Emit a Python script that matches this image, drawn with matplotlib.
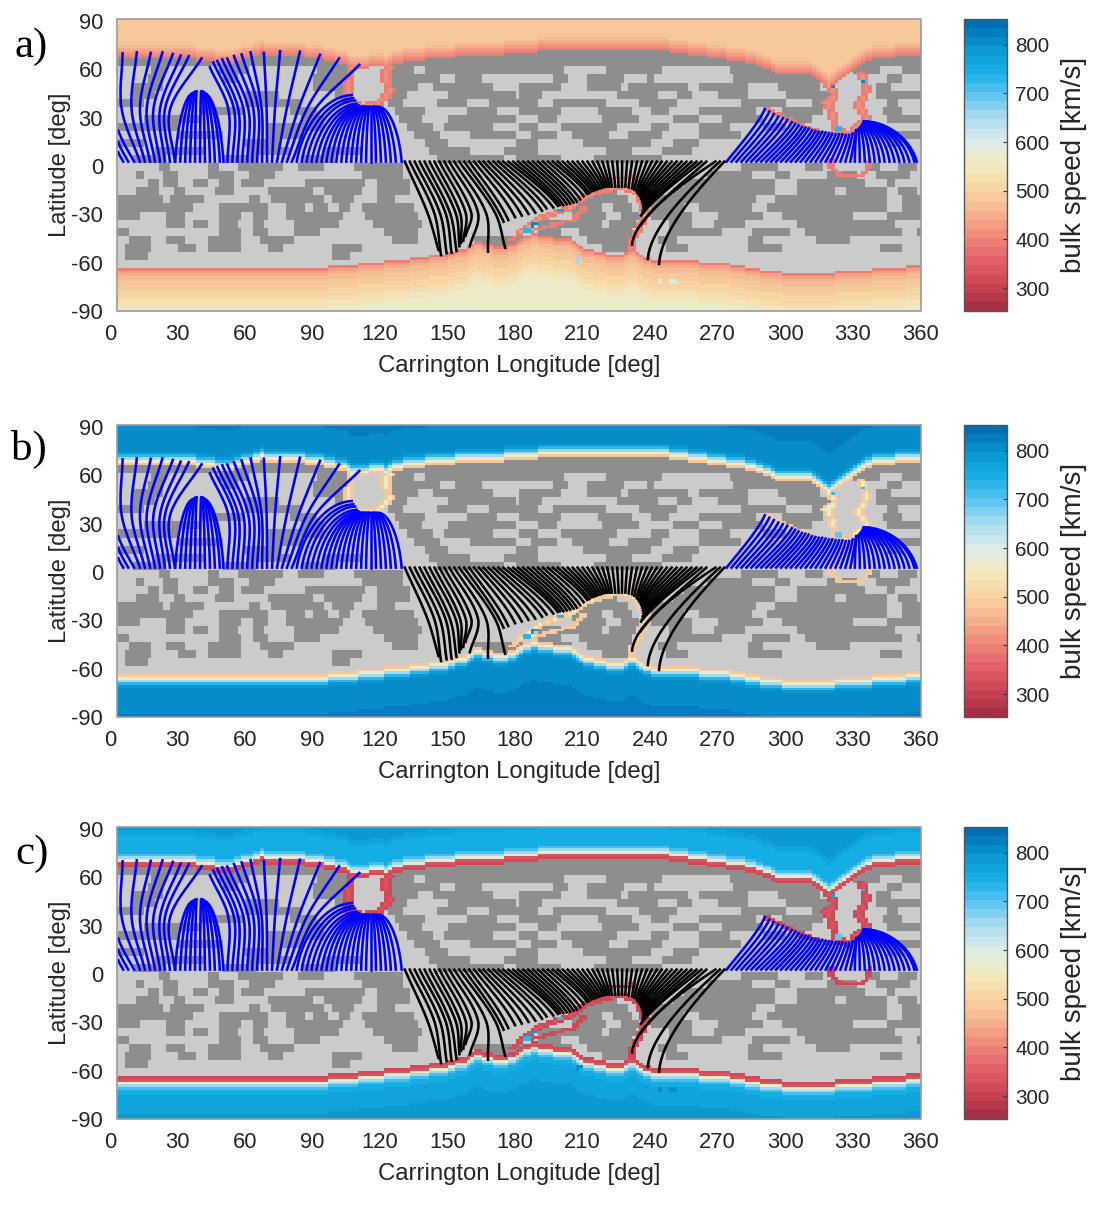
import numpy as np
import matplotlib
matplotlib.use("Agg")
import matplotlib.pyplot as plt
from matplotlib.colors import LinearSegmentedColormap, Normalize, ListedColormap
from matplotlib.patches import Rectangle
from matplotlib.cm import ScalarMappable
from matplotlib.transforms import ScaledTranslation

plt.rcParams['font.family'] = ['Liberation Sans', 'DejaVu Sans']

# ---------- data ----------
boundary_lon = [0, 37, 52, 67, 84, 94, 104, 110, 124, 130, 148, 163, 187, 197, 241, 256, 271, 286, 296, 311, 319, 329, 338, 360]
north_lat = [66, 65, 62, 68, 67, 65, 62, 59, 61, 63, 66, 67, 69, 71, 71, 68, 65, 62, 56, 55, 48, 57, 65, 68]
south_lon = [0, 95, 118, 137, 148, 160, 163, 175, 182, 185, 203, 212, 225, 232, 241, 271, 286, 305, 323, 360]
south_lat = [-64, -64, -61, -58, -56, -51, -48, -52, -47, -44, -46, -53, -57, -54, -59, -61, -65, -68, -67, -63]

dark_bands = {
    67.5: [(0, 360)],
    62.5: [(0, 360)],
    57.5: [(0, 3), (19, 25), (48, 62), (92, 108), (124, 135), (140, 202), (220, 245), (275, 315), (330, 342), (352, 360)],
    52.5: [(16, 24), (50, 56), (90, 106), (124, 147), (154, 165), (197, 203), (212, 228), (238, 242), (276, 318), (345, 352)],
    47.5: [(10, 24), (90, 104), (124, 136), (143, 170), (182, 200), (212, 226), (230, 256), (262, 284), (296, 315), (340, 346)],
    42.5: [(10, 20), (60, 75), (100, 106), (124, 132), (150, 180), (182, 192), (225, 243), (252, 258), (270, 284), (300, 320), (340, 360)],
    37.5: [(3, 15), (60, 85), (124, 130), (145, 158), (168, 190), (196, 220), (235, 252), (280, 300), (312, 318), (345, 350)],
    32.5: [(40, 60), (80, 92), (126, 140), (158, 172), (182, 200), (216, 232), (240, 248), (262, 286), (298, 316), (343, 352)],
    27.5: [(15, 40), (85, 95), (128, 138), (150, 180), (190, 198), (218, 235), (250, 262), (272, 290), (300, 312), (345, 360)],
    22.5: [(3, 30), (70, 95), (132, 143), (148, 170), (182, 190), (200, 225), (240, 248), (262, 275), (290, 300)],
    17.5: [(30, 50), (70, 85), (135, 146), (160, 180), (186, 198), (205, 222), (230, 245), (262, 280), (340, 360)],
    12.5: [(3, 15), (60, 75), (140, 150), (180, 190), (210, 240), (250, 262), (345, 352)],
    7.5: [(20, 42), (62, 80), (95, 112), (142, 160), (175, 190), (220, 232), (245, 258)],
    2.5: [(10, 25), (50, 65), (85, 100), (145, 175), (180, 200), (215, 245)],
    -2.5: [(21, 27), (43, 49), (56, 77), (83, 95), (108, 130), (280, 296), (309, 317), (335, 342), (350, 358)],
    -7.5: [(11, 15), (23, 30), (44, 55), (62, 74), (111, 130), (265, 285), (295, 302), (318, 332), (340, 355)],
    -12.5: [(16, 22), (24, 30), (37, 43), (49, 55), (59, 68), (87, 113), (119, 133), (255, 295), (305, 335), (345, 348)],
    -17.5: [(11, 21), (28, 34), (47, 55), (70, 90), (95, 111), (119, 133), (215, 225), (250, 295), (305, 322), (326, 345), (350, 358)],
    -22.5: [(3, 24), (27, 41), (62, 67), (71, 95), (98, 108), (119, 127), (210, 230), (240, 286), (295, 345), (352, 360)],
    -27.5: [(3, 37), (49, 70), (79, 87), (90, 96), (102, 107), (111, 135), (205, 218), (224, 232), (240, 255), (262, 285), (292, 345), (352, 360)],
    -32.5: [(3, 13), (25, 34), (49, 59), (64, 70), (79, 104), (113, 136), (205, 220), (226, 235), (240, 258), (270, 290), (298, 330), (345, 360)],
    -37.5: [(25, 33), (37, 44), (49, 57), (63, 68), (81, 102), (117, 138), (190, 218), (222, 234), (249, 259), (268, 281), (305, 349)],
    -42.5: [(3, 9), (49, 58), (64, 70), (81, 93), (121, 136), (190, 200), (208, 232), (248, 272), (285, 302), (309, 352), (358, 360)],
    -47.5: [(9, 18), (25, 34), (44, 59), (67, 81), (125, 136), (161, 185), (190, 205), (212, 232), (244, 252), (283, 290), (314, 328)],
    -52.5: [(7, 18), (30, 39), (44, 59), (70, 77), (98, 111), (161, 180), (218, 232), (246, 256), (284, 299), (342, 351)],
    -57.5: [(7, 16), (98, 107)],
}

channels = [
    ([107, 106, 106, 112, 120, 124, 122, 124], [60, 48, 38, 35, 38, 45, 55, 60], 2.2),
    ([319, 322, 318, 321, 322, 328, 336, 332, 336, 334], [50, 42, 38, 30, 22, 18, 28, 36, 45, 55], 2.2),
    ([291, 300, 310, 320, 330], [34, 28, 22, 18, 18], 1.4),
    ([320, 320, 324, 334, 337, 337], [2, -2, -7, -7, -2, 2], 1.3),
    ([182, 190, 204, 213, 226, 234, 238, 235, 231, 232], [-42, -34, -27, -19, -14, -18, -30, -40, -50, -55], 1.8),
    ([185, 205, 210], [-42, -35, -28], 1.3),
    ([178, 185, 190], [-47, -40, -45], 1.5),
    ([218, 232, 235], [-10, -8, -15], 1.2),
]

depth_speed = {
    'aN': [385, 410, 435, 455, 470, 480, 488, 492, 495, 495, 495, 495, 495, 495, 495, 495],
    'aS': [395, 430, 450, 465, 475, 485, 490, 495, 500, 505, 510, 520, 530, 540, 550, 555],
    'bN': [480, 570, 660, 740, 790, 805, 805, 805, 805, 805, 805, 805, 815, 815, 815, 820],
    'bS': [480, 570, 660, 740, 790, 805, 805, 805, 805, 805, 805, 810, 810, 810, 815, 820],
    'cN': [315, 335, 590, 660, 720, 745, 750, 750, 750, 750, 745, 745, 760, 770, 780, 790],
    'cS': [315, 335, 570, 650, 715, 745, 755, 760, 760, 765, 765, 770, 770, 775, 780, 790],
}

spot_lon = [114, 118, 112, 321, 327, 333, 329, 330, 323, 200, 188, 185, 208, 244, 250]
spot_lat = [50.7, 48, 47.8, 48, 53, 51, 34, 26, 22, -29, -38, -41, -59, -73, -73]
spot_speed = {
    'a': [760, 780, 760, 800, 780, 800, 760, 780, 740, 760, 800, 740, 650, 600, 600],
    'b': [620, 640, 620, 740, 760, 740, 740, 720, 700, 730, 780, 730, 805, 810, 810],
    'c': [580, 590, 580, 760, 700, 740, 760, 760, 700, 740, 790, 740, 810, 800, 800],
}

# open field lines that pass a read-off longitude at lat 34
blue_tall_foot = [13.3, 15.5, 17.8, 20, 22.2, 24.4, 26.6, 28.8, 52.2, 54.4, 56.6, 58.8, 61, 63.2, 65.4, 67.6, 69.8, 72, 74.2, 76.4, 78.6, 80.8]
blue_tall_mid = [5.2, 9.6, 13.3, 16.3, 19.3, 22.2, 24.4, 26.7, 52.6, 55.1, 57, 59.3, 61.5, 63.7, 65.9, 67.4, 69.6, 73.3, 78.5, 83.7, 87.4, 91.1]
blue_tall_lon = [5.6, 11.9, 18.1, 23.3, 27.9, 31.4, 35, 40.7, 44.4, 45.9, 47.7, 49.9, 52.1, 55.1, 58.5, 62.5, 68.4, 75.6, 84.4, 93.3, 101.8, 110.8]
blue_tall_lat = [68.7, 69.3, 69, 69.3, 68.3, 67.3, 66.9, 65.6, 60, 63, 64, 65, 65.5, 67, 68, 69.3, 69, 70, 69.7, 67.7, 65.6, 61.5]

# short lines truncated by the left edge, and the long slanted fan on the right
blue_open_foot = [5.9, 8.1, 10.7, 274, 276.2, 278.4, 280.6, 282.8, 285, 287.2, 289.4, 291.6, 293.8, 296, 298.2, 300.4, 302.6, 304.8, 307, 309.2, 311.4, 313.6, 315.8, 318, 320.2, 322.4, 324.6, 326.8, 329]
blue_open_lon = [3.7, 3.7, 3.7, 291, 293, 295, 297, 299, 301, 303, 304.5, 306, 307.5, 309, 310.5, 312, 313.5, 315, 316.5, 318, 319.5, 321, 322.5, 324, 325.5, 327, 328.5, 330, 331.5]
blue_open_lat = [7.3, 13.6, 20.8, 34, 32.5, 31, 29.5, 28.5, 27.5, 26, 25, 24, 23, 22.5, 22, 21, 20.5, 20, 20, 19.5, 19, 19, 18.5, 18.5, 18.5, 18, 18, 19, 21]

blue_dome_foot = [29, 31.2, 33.4, 35.6, 37.8, 40, 42.2, 44.4, 46.6, 48.8, 50.4,
                  83, 85.2, 87.4, 89.6, 91.8, 94, 96.2, 98.4, 100.6, 102.8, 105, 107.2, 109.4, 111.6, 113.8, 116, 118.2, 120.4, 122.6, 124.8, 127, 129.6,
                  331, 333.2, 335.4, 337.6, 339.8, 342, 344.2, 346.4, 348.6, 350.8, 353, 355.2, 357.4, 358.5]
blue_dome_lon = [37, 37.5, 38, 38.3, 38.6, 40.5, 40.8, 41, 41.2, 41.5, 41.8,
                 107.4, 108.1, 108.9, 109.6, 110.4, 111, 111.5, 112, 112.5, 113, 113.5, 114, 114.5, 115, 115.5, 116, 116.5, 117, 117.5, 118, 118.5, 119.5,
                 332, 332.5, 333, 333.3, 333.6, 334, 334.2, 334.4, 334.6, 334.7, 334.8, 334.9, 335, 335.2]
blue_dome_lat = [44, 44.5, 45, 45, 45, 45, 45, 45, 45, 44.5, 44,
                 42.8, 40.8, 39.4, 37.4, 36.4, 35.5, 35.5, 35.5, 35.5, 35.5, 35.5, 35.5, 35.5, 35.5, 35.5, 35.5, 35.5, 35.5, 35.5, 35.5, 35.5, 35.5,
                 21, 21.5, 22, 22.5, 23, 23.5, 24, 24.5, 25, 25.5, 26, 26, 26.5, 26.5]

# black lines that keep slanting to lat -30 and then hook down to their end
black_hook_foot = [131, 133.2, 135.4, 137.6, 139.8, 142, 144.2, 146.4, 148.6, 150.8, 153, 155.2]
black_hook_mid = [141, 144, 146.5, 149, 151, 153.5, 155.5, 158, 160.5, 163.5, 167, 171]
black_hook_lon = [146, 147.1, 149.6, 151.8, 154, 155.3, 156, 157, 158, 159.9, 168, 175.6]
black_hook_lat = [-53.4, -56.5, -55.4, -55, -54, -51, -49, -47.7, -44.6, -51, -54.4, -52]

black_foot = [157.4, 159.6, 161.8, 164, 166, 168.2, 170.4, 172.6, 174.8, 177,
              179.2, 181.4, 183.6, 185.8, 188, 190.2, 192.4, 194.6, 196.8, 199, 201.2, 203.4, 205.6, 207.8, 210, 212.2, 214.4, 216.6, 218.8, 221, 223.2, 225.4, 227.6, 229.8, 232, 234.2, 236.4, 238.6, 240.8, 243, 245.2, 247.4, 249.6, 251.8, 254, 256.2, 258.4, 260.6, 262.8, 265, 269, 271, 273]
black_lon = [174.9, 177, 180, 183, 186, 189, 192, 194, 197, 199,
             200, 201.5, 203, 204.5, 206, 207.5, 209, 210.5, 212, 213, 214, 215, 216, 217, 218, 219, 220, 221, 222, 223, 224.5, 226, 227.5, 229, 230.5, 232, 233, 234, 234.5, 235, 235.5, 236, 236.2, 236.5, 236.8, 237, 236.8, 236.5, 236, 235.8, 232, 239, 244]
black_lat = [-35.8, -34.8, -33, -32, -31, -30.2, -29, -27.6, -27, -26,
             -25.5, -25.5, -25, -24.5, -24, -23.4, -22, -20, -18.5, -18, -17, -16.5, -16, -15.5, -15, -14.5, -14.2, -14, -14, -14, -14, -14, -14, -14, -14.5, -15, -16, -17, -18, -19, -20, -21, -22, -23.5, -25, -26.5, -28.5, -30.5, -32, -38, -50, -59, -62]

panel_keys = ['a', 'b', 'c']
panel_tops = [19, 425, 827]
letter_y = [47, 449, 854]
letter_x = [15, 11, 15]
xticks = list(range(0, 361, 30))
yticks = [-90, -60, -30, 0, 30, 60, 90]
cbar_ticks = [300, 400, 500, 600, 700, 800]

cmap_hex = ['#A62F45', '#CC4555', '#E2626A', '#EF8A7A', '#F5B491', '#F8D5A3', '#F2EAC0', '#DCEBE6', '#ACDDF0', '#5AC4EE', '#18AEE6', '#0896D0', '#006EB2']

# ---------- fine grid ----------
FW, FH = 1104, 1206
cmap = LinearSegmentedColormap.from_list('speed', cmap_hex, N=32)
norm = Normalize(253, 853)
STEP = 5 / 3
glon = np.arange(0, 360, STEP) + STEP / 2
glat = np.arange(-91.2, 90, STEP) + STEP / 2
LON, LAT = np.meshgrid(glon, glat)

dark = np.zeros(LON.shape, bool)
for band, spans in dark_bands.items():
    row = np.abs(LAT - band) <= 2.5
    for a, b in spans:
        dark |= row & (LON >= a) & (LON < b)

north = np.interp(glon, boundary_lon, north_lat)
south = np.interp(glon, south_lon, south_lat)
opened = (LAT > north[None, :]) | (LAT < south[None, :])
for lons, lats, width in channels:
    for i in range(len(lons) - 1):
        for t in np.linspace(0, 1, 12):
            x = lons[i] + t * (lons[i + 1] - lons[i])
            y = lats[i] + t * (lats[i + 1] - lats[i])
            opened |= np.hypot(LON - x, LAT - y) < width

depth = np.full(LON.shape, 15)
cur = opened.copy()
for d in range(15):
    p = np.pad(cur, 1, constant_values=True)
    eroded = cur & p[:-2, 1:-1] & p[2:, 1:-1] & p[1:-1, :-2] & p[1:-1, 2:]
    depth[cur & ~eroded] = d
    cur = eroded


def field(key):
    sp = np.full(LON.shape, np.nan)
    north_tab = np.array(depth_speed[key + 'N'])
    south_tab = np.array(depth_speed[key + 'S'])
    sp[LAT >= 0] = north_tab[depth[LAT >= 0]]
    sp[LAT < 0] = south_tab[depth[LAT < 0]]
    for x, y, v in zip(spot_lon, spot_lat, spot_speed[key]):
        sp[np.hypot(LON - x, LAT - y) < 1.6] = v
    sp[~opened] = np.nan
    return sp


BASE = 1.5


def bezier(p0, p1, p2, p3):
    t = np.linspace(0, 1, 50)[:, None]
    p0, p1, p2, p3 = map(np.array, (p0, p1, p2, p3))
    return (1 - t) ** 3 * p0 + 3 * (1 - t) ** 2 * t * p1 + 3 * (1 - t) * t ** 2 * p2 + t ** 3 * p3


def dome_curve(f, e, L):
    d = e - f
    return bezier((f, BASE), (f + 0.1 * d, BASE + 0.5 * (L - BASE)), (f + 0.5 * d, L - 0.02 * L), (e, L))


def slant_curve(f, e, L):
    d = e - f
    h = L - BASE
    return bezier((f, BASE), (f + 0.36 * d, BASE + 0.33 * h), (f + 0.78 * d, BASE + 0.67 * h), (e, L))


def long_curve(f, e, L):
    d = e - f
    h = L - BASE
    return bezier((f, BASE), (f + 0.5 * d, BASE + 0.33 * h), (f + 0.97 * d, BASE + 0.7 * h), (e, L))


def through_curve(f, m, e, L, ym):
    # piecewise cubic through foot, mid and end, x as a function of lat
    y0, y1, y2 = BASE, ym, L
    s1, s2 = (m - f) / (y1 - y0), (e - m) / (y2 - y1)
    sm = (e - f) / (y2 - y0)
    out = []
    for ya, yb, xa, xb, ta, tb in ((y0, y1, f, m, s1, sm), (y1, y2, m, e, sm, s2)):
        u = np.linspace(0, 1, 25)
        hh = yb - ya
        x = ((2 * u ** 3 - 3 * u ** 2 + 1) * xa + (u ** 3 - 2 * u ** 2 + u) * hh * ta
             + (-2 * u ** 3 + 3 * u ** 2) * xb + (u ** 3 - u ** 2) * hh * tb)
        out.append(np.column_stack([x, ya + u * hh]))
    return np.vstack(out)


fig = plt.figure(figsize=(FW / 100, FH / 100), dpi=100)
TXT = '#262626'
FS = 15.8
LW = 1.85
H = 292
for key, top, ly, lx in zip(panel_keys, panel_tops, letter_y, letter_x):
    ax = fig.add_axes([110 / FW, 1 - (top + H) / FH, 811 / FW, H / FH])
    for s in ax.spines.values():
        s.set_visible(False)
    ax.set_facecolor('none')
    frame = Rectangle((3.1, -91.2), 357.3, 181.2, fc='none', ec='#9a9a9a', lw=1.2, zorder=6, clip_on=False)
    ax.add_patch(frame)
    clip = Rectangle((3.1, -91.2), 357.3, 181.2, transform=ax.transData)
    im0 = ax.imshow(np.where(dark, 0.0, 1.0), origin='lower', extent=(0, 360, -91.2, 90), aspect='auto',
                    cmap=ListedColormap(['#8E8E8E', '#CBCBCB']), vmin=0, vmax=1, interpolation='nearest', zorder=1)
    im0.set_clip_path(clip)
    im1 = ax.imshow(np.ma.masked_invalid(field(key)), origin='lower', extent=(0, 360, -91.2, 90), aspect='auto',
                    cmap=cmap, norm=norm, interpolation='nearest', zorder=2)
    im1.set_clip_path(clip)
    ax.set_xlim(0, 360.4)
    ax.set_ylim(-91.2, 90)

    paths = []
    for f, m, e, L in zip(blue_tall_foot, blue_tall_mid, blue_tall_lon, blue_tall_lat):
        paths.append((through_curve(f, m, e, L, 34.0), '#0000FF'))
    for f, e, L in zip(blue_dome_foot, blue_dome_lon, blue_dome_lat):
        paths.append((dome_curve(f, e, L), '#0000FF'))
    for f, e, L in zip(blue_open_foot, blue_open_lon, blue_open_lat):
        paths.append((slant_curve(f, e, L), '#0000FF'))
    for f, m, e, L in zip(black_hook_foot, black_hook_mid, black_hook_lon, black_hook_lat):
        paths.append((through_curve(f, m, e, L, -30.0), 'black'))
    for f, e, L in zip(black_foot, black_lon, black_lat):
        curve_fn = long_curve if abs(L) > 40 else slant_curve
        paths.append((curve_fn(f, e, L), 'black'))
    for p, col in paths:
        ln, = ax.plot(p[:, 0], p[:, 1], color=col, lw=LW, zorder=4)
        ln.set_clip_path(clip)

    ax.set_xticks(xticks)
    ax.set_xticklabels([str(v) for v in xticks])
    ax.set_yticks(yticks)
    ax.set_yticklabels([str(v) for v in yticks])
    ax.tick_params(length=0, labelsize=FS, labelcolor=TXT)
    ax.tick_params(axis='x', pad=9)
    ax.tick_params(axis='y', pad=5)
    shift = ScaledTranslation(0, -2 / 100, fig.dpi_scale_trans)
    for lbl in ax.get_yticklabels():
        lbl.set_transform(lbl.get_transform() + shift)
    ax.set_xlabel('Carrington Longitude [deg]', fontsize=17.2, color=TXT)
    ax.xaxis.set_label_coords((519 - 110) / 811, -55 / H)
    ax.xaxis.label.set_verticalalignment('center')
    ax.set_ylabel('Latitude [deg]', fontsize=17.2, color=TXT)
    ax.yaxis.set_label_coords(-(110 - 60) / 811, 0.5)
    ax.yaxis.label.set_verticalalignment('center')
    fig.text(lx / FW, 1 - ly / FH, key + ')', fontsize=31, family='Liberation Serif', color='black', va='center', ha='left')

    cax = fig.add_axes([964 / FW, 1 - (top + H) / FH, 43 / FW, H / FH])
    cb = fig.colorbar(ScalarMappable(norm=norm, cmap=cmap), cax=cax, ticks=cbar_ticks)
    cb.outline.set_edgecolor('#555555')
    cb.outline.set_linewidth(1.0)
    cax.tick_params(direction='in', length=3, width=0.8, color='#333333', labelsize=14.9, labelcolor=TXT, pad=6)
    cb.set_label('bulk speed [km/s]', fontsize=20, color=TXT)
    cax.yaxis.set_label_coords((1074 - 964) / 43, 0.5)
    cax.yaxis.label.set_verticalalignment('center')

fig.savefig('out.png', dpi=100)
